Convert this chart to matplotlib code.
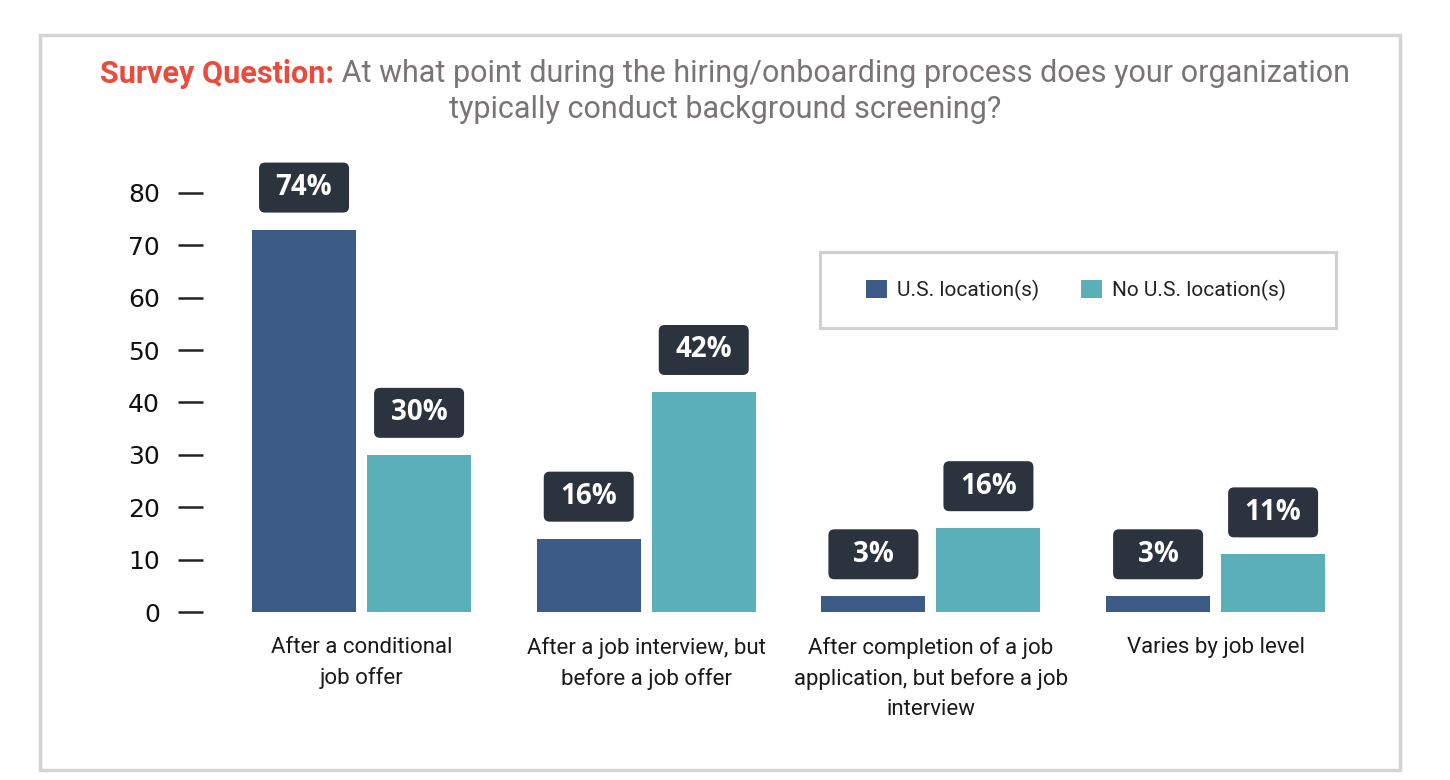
import matplotlib.pyplot as plt
from matplotlib.patches import FancyBboxPatch, Rectangle
import numpy as np

categories = ["After a conditional\njob offer",
              "After a job interview, but\nbefore a job offer",
              "After completion of a job\napplication, but before a job\ninterview",
              "Varies by job level"]
us_vals = [73, 14, 3, 3]
nous_vals = [30, 42, 16, 11]
us_labels = ["74%", "16%", "3%", "3%"]
nous_labels = ["30%", "42%", "16%", "11%"]
series_names = ["U.S. location(s)", "No U.S. location(s)"]

DARK = "#3d5b87"
TEAL = "#5aafb9"
BOX = "#2b333e"

W, H = 1450, 780
fig = plt.figure(figsize=(W / 100, H / 100), dpi=100)

# outer frame
fig.patches.append(Rectangle((40 / W, 1 - 770 / H), 1360 / W, 735 / H, transform=fig.transFigure,
                             fill=False, edgecolor="#d4d4d4", linewidth=2.5))

ax = fig.add_axes([203 / W, 1 - 612 / H, (1340 - 203) / W, (612 - 151) / H])
x = np.arange(len(categories))
bw = 0.365
off = 0.202
ax.bar(x - off, us_vals, bw, color=DARK, label=series_names[0])
ax.bar(x + off, nous_vals, bw, color=TEAL, label=series_names[1])
ax.set_xlim(-0.557, 3.437)
ax.set_ylim(0, 88)

# value boxes above bars
px_x = (3.437 + 0.557) / (1340 - 203)
px_y = 88 / (612 - 151)
bx_w, bx_h, gap = 90 * px_x, 50 * px_y, 17 * px_y
for xs, vals, labs in [(x - off, us_vals, us_labels), (x + off, nous_vals, nous_labels)]:
    for xi, v, lab in zip(xs, vals, labs):
        y0 = v + gap
        ax.add_patch(FancyBboxPatch((xi - bx_w / 2, y0), bx_w, bx_h,
                                    boxstyle="round,pad=0,rounding_size=%f" % (6 * px_x),
                                    mutation_aspect=px_y / px_x,
                                    facecolor=BOX, edgecolor="none", clip_on=False))
        ax.text(xi, y0 + bx_h / 2, lab, ha="center", va="center", color="white",
                fontsize=20, fontweight="bold", family=["Open Sans", "DejaVu Sans"])

for s in ax.spines.values():
    s.set_visible(False)
ax.set_yticks(range(0, 81, 10))
ax.tick_params(axis="y", direction="out", length=18, width=1.8, color="#222222", pad=13,
               labelsize=18, labelcolor="#111111")
ax.set_xticks(x)
ax.set_xticklabels(categories, fontsize=16, color="#1a1a1a", linespacing=1.55,
                   family="Roboto")
ax.tick_params(axis="x", length=0, pad=18)

leg = ax.legend(loc="center", bbox_to_anchor=(0.768, 0.698), ncol=2, frameon=False,
                prop={"family": "Roboto", "size": 15},
                handlelength=1.0, handleheight=1.0, handletextpad=0.5,
                columnspacing=2.0)
for t in leg.get_texts():
    t.set_color("#222222")
ax.add_patch(Rectangle((0.5427, 0.616), 0.4538, 0.1649, transform=ax.transAxes,
                       fill=False, edgecolor="#d0d0d0", linewidth=2.2, clip_on=False))

# title
t1 = fig.text(100 / W, 1 - 74 / H, "Survey Question:", color="#e94b3c", fontsize=22,
              fontweight="bold", family="Roboto", va="center", ha="left")
ax.annotate(" At what point during the hiring/onboarding process does your organization",
            xy=(1, 0.5), xycoords=t1, va="center", ha="left", color="#7a7474",
            fontsize=22, family="Roboto")
fig.text(725 / W, 1 - 110 / H, "typically conduct background screening?", color="#7a7474",
         fontsize=22, family="Roboto", va="center", ha="center")

fig.savefig("out.png", dpi=100, facecolor="white")
